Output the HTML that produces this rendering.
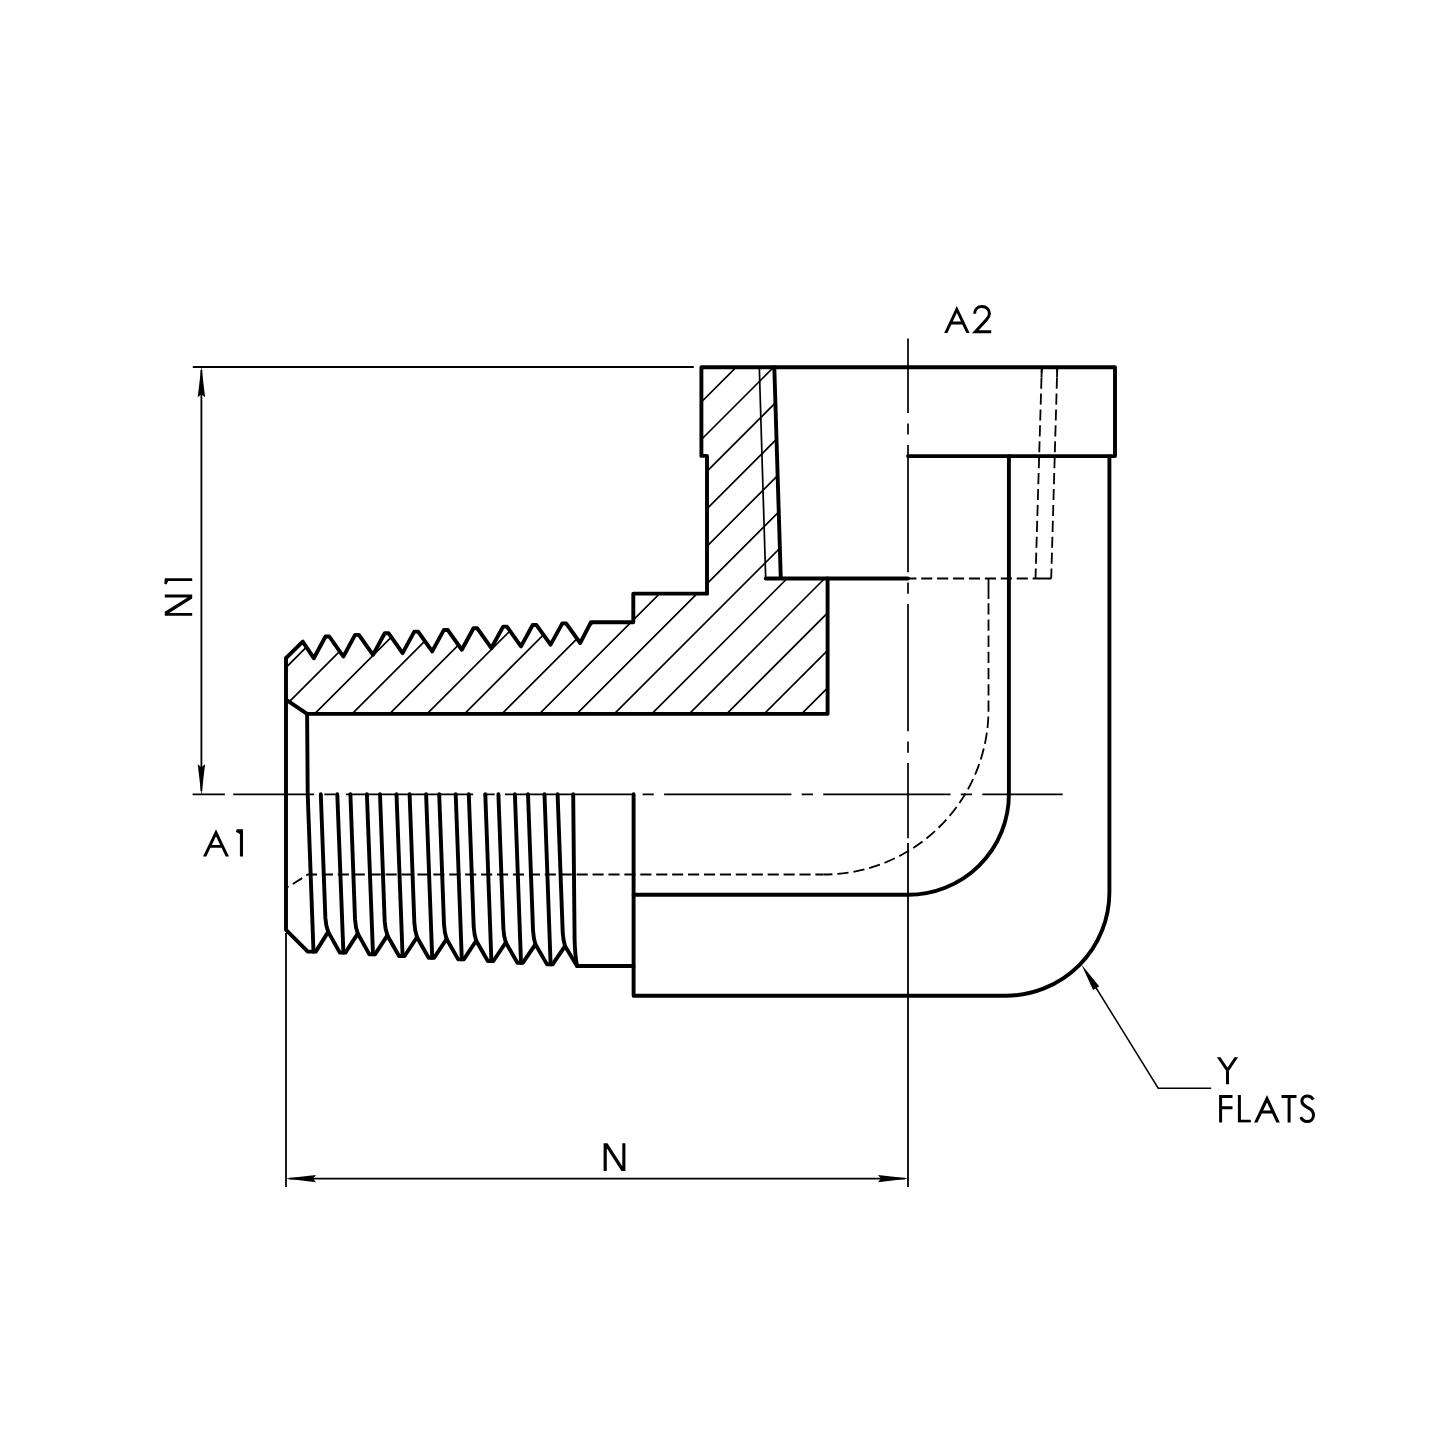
<!DOCTYPE html>
<html><head><meta charset="utf-8"><title>Drawing</title>
<style>html,body{margin:0;padding:0;background:#fff;width:1445px;height:1445px;overflow:hidden;font-family:"Liberation Sans",sans-serif}svg{display:block}</style>
</head><body>
<svg width="1445" height="1445" viewBox="0 0 1445 1445">
<rect width="1445" height="1445" fill="#fff"/>
<defs><clipPath id="hc"><polygon points="701.6,367.2 774.3,367.2 780.8,578.5 827.6,578.5 827.6,713.9 307.1,713.9 286,699.7 286,658.2 302.7,641.6 313.8,658.2 325.5,636.5 329.3,636.5 343.4,656.51 355.1,634.86 358.9,634.86 373,654.82 384.7,633.22 388.5,633.22 402.6,653.13 414.3,631.58 418.1,631.58 432.2,651.44 443.9,629.94 447.7,629.94 461.8,649.75 473.5,628.3 477.3,628.3 491.4,648.06 503.1,626.66 506.9,626.66 521,646.37 532.7,625.02 536.5,625.02 550.6,644.68 562.3,623.38 566.1,623.38 580.2,642.99 591,622.2 633.3,622.2 633.3,593.6 707,593.6 707,455.9 701.4,455.9"/></clipPath></defs>
<path clip-path="url(#hc)" d="M503.72,300L43.72,760M541.18,300L81.18,760M578.64,300L118.64,760M616.1,300L156.1,760M653.56,300L193.56,760M691.02,300L231.02,760M728.48,300L268.48,760M765.94,300L305.94,760M803.4,300L343.4,760M840.86,300L380.86,760M878.32,300L418.32,760M915.78,300L455.78,760M953.24,300L493.24,760M990.7,300L530.7,760M1028.16,300L568.16,760M1065.62,300L605.62,760M1103.08,300L643.08,760M1140.54,300L680.54,760M1178,300L718,760M1215.46,300L755.46,760M1252.92,300L792.92,760M1290.38,300L830.38,760M1327.84,300L867.84,760M1365.3,300L905.3,760" stroke="#000" stroke-width="1.7" fill="none"/>
<g stroke="#000" fill="none" stroke-width="1.7">
<path d="M759.3,367.2L765.7,578.5"/>
</g>
<g stroke="#000" fill="none" stroke-width="1.8" stroke-dasharray="11.1 4.82">
<path d="M908,578.5L1035.5,578.5" stroke-dashoffset="2.72"/>
<path d="M1041.8,367.2L1035.5,578.5" stroke-dashoffset="5.52"/>
<path d="M1057.3,367.2L1051.2,578.5" stroke-dashoffset="5.52"/>
<path d="M288,887L308,874.5L823.5,874.5" stroke-dashoffset="10.28"/>
<path d="M988.5,603.2L988.5,709.5A165,165 0 0 1 823.5,874.5" stroke-dasharray="11.3 4.9"/>
</g>
<g stroke="#000" fill="none" stroke-width="1.8">
<path d="M1041.8,367.2L1041.5,377.4M1057.3,367.2L1057,377.4M1035.5,578.5L1051.2,578.5M988.5,578.5L988.5,599.1"/>
</g>
<g stroke="#000" fill="none" stroke-width="1.7" stroke-dasharray="127.3 10.3 11.2 10.3">
<path d="M233.2,794.3L1062.7,794.3" stroke-dashoffset="46.4"/>
<path d="M908,338.4L908,838.2" stroke-dashoffset="52.6"/>
</g>
<g stroke="#000" fill="none" stroke-width="3.9" stroke-linejoin="round" stroke-linecap="round">
<path d="M908,456.1L1115,456.1L1115,367.2L701.4,367.2L701.4,455.9L707,455.9L707,593.6"/>
<polyline points="707,593.6 633.3,593.6 633.3,622.2 591,622.2 580.2,642.99 566.1,623.38 562.3,623.38 550.6,644.68 536.5,625.02 532.7,625.02 521,646.37 506.9,626.66 503.1,626.66 491.4,648.06 477.3,628.3 473.5,628.3 461.8,649.75 447.7,629.94 443.9,629.94 432.2,651.44 418.1,631.58 414.3,631.58 402.6,653.13 388.5,633.22 384.7,633.22 373,654.82 358.9,634.86 355.1,634.86 343.4,656.51 329.3,636.5 325.5,636.5 313.8,658.2 302.7,641.6 286,658.2"/>
<polyline points="286,658.2 286,929.8 307.8,951.6 315.8,951.6 328.2,931.9 339.8,952.67 345.4,952.67 357.8,933.67 369.4,954.34 375,954.34 387.4,935.44 399,956.01 404.6,956.01 417,937.21 428.6,957.68 434.2,957.68 446.6,938.98 458.2,959.35 463.8,959.35 476.2,940.75 487.8,961.02 493.4,961.02 505.8,942.52 517.4,962.69 523,962.69 535.4,944.29 547,964.36 552.6,964.36 565,946.06 577,966 633.6,966"/>
<path d="M774.3,367.2L780.8,578.5M765.7,578.5L908,578.5"/>
<path d="M827.6,578.5L827.6,713.9L307.1,713.9L286,699.7"/>
<path d="M1008.9,456.1L1008.9,794.3A100.9,100.5 0 0 1 908,894.8L633.6,894.8"/>
<path d="M1109.4,456.1L1109.4,892.2A103.5,103.5 0 0 1 1005.9,995.7L633.6,995.7L633.6,794.3"/>
<path d="M307.1,713.9L307.7,794.3L313.5,951.6M337.3,794.3L343.4,952.67M366.9,794.3L373,954.34M396.5,794.3L402.6,956.01M426.1,794.3L432.2,957.68M455.7,794.3L461.8,959.35M485.3,794.3L491.4,961.02M514.9,794.3L521,962.69M544.5,794.3L550.6,964.36M573.2,794.3L574.6,940Q575,955 577,966M320.8,794.3L325.37,917.9Q325.87,925.9 328.2,931.9M350.4,794.3L355.04,919.67Q355.54,927.67 357.8,933.67M380,794.3L384.7,921.44Q385.2,929.44 387.4,935.44M409.6,794.3L414.37,923.21Q414.87,931.21 417,937.21M439.2,794.3L444.04,924.98Q444.54,932.98 446.6,938.98M468.8,794.3L473.7,926.75Q474.2,934.75 476.2,940.75M498.4,794.3L503.37,928.52Q503.87,936.52 505.8,942.52M528,794.3L533.03,930.29Q533.53,938.29 535.4,944.29M557.6,794.3L562.7,932.06Q563.2,940.06 565,946.06"/>
</g>
<g stroke="#000" fill="none" stroke-width="1.8">
<path d="M192.8,367L693.8,367"/>
<path d="M192.6,794.3L224.9,794.3"/>
<path d="M201.4,370L201.4,791"/>
<path d="M286,933L286,1187"/>
<path d="M908,843L908,1187"/>
<path d="M289,1178.6L905,1178.6"/>
<path d="M1090,978L1158.2,1088.2L1211.2,1088.2" stroke-width="1.5"/>
</g>
<g fill="#000">
<polygon points="201.4,366.2 197.7,397.2 201.4,394.2 205.1,397.2"/>
<polygon points="201.4,795.3 205.1,764.3 201.4,767.3 197.7,764.3"/>
<polygon points="285,1178.6 316,1182.3 313,1178.6 316,1174.9"/>
<polygon points="909,1178.6 878,1174.9 881,1178.6 878,1182.3"/>
<polygon points="1081.4,964.4 1093.1,990.09 1096.16,988.19 1099.22,986.3"/>
</g>
<g fill="#000">
<polygon points="603.6,1171 603.6,1143.2 607.54,1143.2 622.3,1166.17 622.3,1143.2 625.4,1143.2 625.4,1171 621.46,1171 606.8,1148.18 606.8,1171"/>
<polygon points="192.2,615.7 164.8,615.7 164.8,611.78 187.6,597.4 164.8,597.4 164.8,594.5 192.2,594.5 192.2,598.42 169.24,612.9 192.2,612.9"/>
</g>
<defs><clipPath id="cA2"><rect x="960" y="305" width="40" height="28.3"/></clipPath><clipPath id="cN"><rect x="595" y="1143.2" width="40" height="27.9"/></clipPath><clipPath id="cN1"><rect x="164.8" y="590" width="27.4" height="30"/></clipPath><clipPath id="cY"><rect x="1210" y="1057.3" width="35" height="27.3"/></clipPath><clipPath id="cT"><rect x="1212" y="1095" width="110" height="27.6"/></clipPath></defs>
<g fill="#000">
<path fill-rule="evenodd" d="M944.2,333.1 L956.8,306 L969.6,333.1 L966.4,333.1 L962.31,324.45 L951.42,324.45 L947.4,333.1ZM952.77,321.55 L956.83,312.83 L960.94,321.55Z"/>
<path fill-rule="evenodd" d="M203,856.6 L216,829.3 L229,856.6 L225.7,856.6 L221.53,847.85 L210.47,847.85 L206.3,856.6ZM211.85,844.95 L216,836.23 L220.15,844.95Z"/>
<path fill-rule="evenodd" d="M1254.1,1122.6 L1267,1095.1 L1279.8,1122.6 L1276.4,1122.6 L1272.14,1113.45 L1261.79,1113.45 L1257.5,1122.6ZM1263.15,1110.55 L1266.99,1102.38 L1270.79,1110.55Z"/>
<path d="M236.8,829.3L243,829.3L243,856.6L239.9,856.6L239.9,834.1L235.9,831.7Z"/>
<path d="M164.8,578.3L192.2,578.3L192.2,580.9L168.1,580.9L166.6,584.6L164.3,583.8Z"/>
</g>
<g stroke="#000" fill="none" stroke-width="3.0" stroke-linejoin="miter" stroke-miterlimit="10">
<path d="M974.6,313.7C974.6,309.4 977.8,306.5 982,306.5C986.4,306.5 989.4,309.6 989.4,313.4C989.4,316 988.2,317.8 986.5,319.6L975.4,331.8L991.2,331.8"/>
<path clip-path="url(#cY)" d="M1214.5,1051L1227.5,1070.3L1240.5,1051M1227.5,1070.3L1227.5,1084.6"/>
<g clip-path="url(#cT)">
<path d="M1232.5,1096.4L1220.6,1096.4L1220.6,1125M1220.6,1107.7L1232.5,1107.7"/>
<path d="M1239.4,1090L1239.4,1121.3L1250.8,1121.3"/>
<path d="M1281.5,1096.5L1296.5,1096.5M1289.1,1096.5L1289.1,1125"/>
</g>
<path d="M1313.4,1099.6C1311.8,1096.9 1309.5,1095.9 1307.2,1095.9C1303.9,1095.9 1301.9,1098.4 1301.9,1101.2C1301.9,1103.8 1303.5,1105.2 1306,1106.6L1309.5,1108.6C1312.3,1110.2 1313.5,1112.3 1313.5,1115.2C1313.5,1119 1310.7,1121.6 1307,1121.6C1304.3,1121.6 1302,1120 1300.8,1117.2"/>
</g>
</svg>
</body></html>
